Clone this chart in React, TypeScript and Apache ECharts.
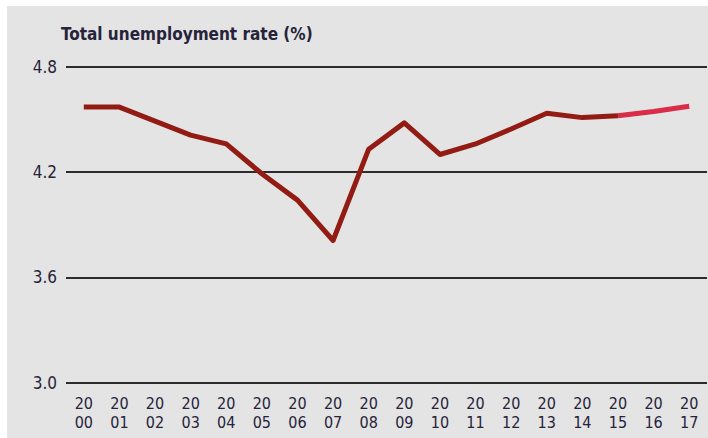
import React, { useEffect, useRef } from "react";
import * as echarts from "echarts";

const years = ["2000","2001","2002","2003","2004","2005","2006","2007","2008","2009","2010","2011","2012","2013","2014","2015","2016","2017"];
const actual: (number | null)[] = [4.57,4.57,4.49,4.41,4.36,4.19,4.04,3.81,4.33,4.48,4.30,4.36,4.445,4.535,4.51,4.52,null,null];
const projection: (number | null)[] = [null,null,null,null,null,null,null,null,null,null,null,null,null,null,null,4.52,4.545,4.575];
const yTicks = { min: 3.0, max: 4.8, interval: 0.6 };
const titleText = "Total unemployment rate (%)";

const FONT = "'DejaVu Sans Condensed', 'Liberation Sans Narrow', sans-serif";
const TXT = "#26233a";

export default function App() {
  const ref = useRef<HTMLDivElement>(null);
  useEffect(() => {
    document.body.style.margin = "0";
    const chart = echarts.init(ref.current!, null, { renderer: "svg" });
    chart.setOption({
      animation: false,
      backgroundColor: "#e3e4e3",
      title: {
        text: titleText,
        left: 49,
        top: 14,
        textStyle: { fontFamily: FONT, fontWeight: "bold", fontSize: 17, color: TXT },
      },
      grid: { left: 59, right: 1, top: 60.7, bottom: 55.3 },
      xAxis: {
        type: "category",
        data: years,
        boundaryGap: true,
        axisLine: { show: false },
        axisTick: { show: false },
        axisLabel: {
          interval: 0,
          margin: 11,
          fontFamily: FONT,
          fontSize: 16,
          lineHeight: 19,
          color: TXT,
          formatter: (v: string) => v.slice(0, 2) + "\n" + v.slice(2),
        },
      },
      yAxis: {
        type: "value",
        min: yTicks.min,
        max: yTicks.max,
        interval: yTicks.interval,
        axisLine: { show: false },
        axisTick: { show: false },
        axisLabel: {
          margin: 9,
          fontFamily: FONT,
          fontSize: 17,
          color: TXT,
          formatter: (v: number) => v.toFixed(1),
        },
        splitLine: { show: true, lineStyle: { color: "#2b2c2c", width: 2 } },
      },
      series: [
        {
          type: "line",
          data: actual,
          symbol: "none",
          lineStyle: { color: "#921c14", width: 5, join: "round" },
          connectNulls: false,
        },
        {
          type: "line",
          data: projection,
          symbol: "none",
          lineStyle: { color: "#d92c48", width: 5, join: "round" },
        },
      ],
    });
    return () => chart.dispose();
  }, []);
  return (
    <div style={{ width: 708, height: 438, background: "#ffffff", boxSizing: "border-box", paddingLeft: 7, paddingTop: 6 }}>
      <div ref={ref} style={{ width: 701, height: 432 }} />
    </div>
  );
}
